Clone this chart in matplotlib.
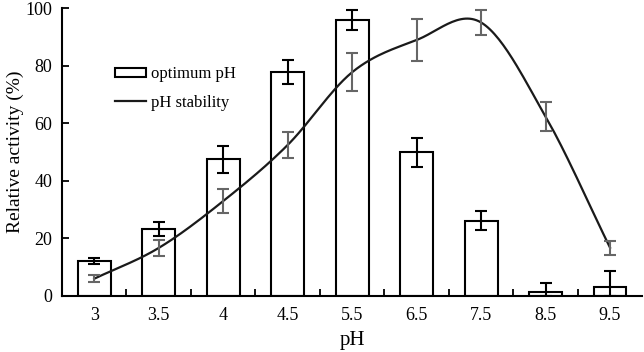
import numpy as np
import matplotlib
matplotlib.use("Agg")
import matplotlib.pyplot as plt
from matplotlib.patches import Patch
from matplotlib.lines import Line2D

plt.rcParams['font.family'] = ['Liberation Serif', 'DejaVu Serif']

ph_labels = ['3', '3.5', '4', '4.5', '5.5', '6.5', '7.5', '8.5', '9.5']
optimum = [12.0, 23.3, 47.4, 77.7, 95.9, 49.8, 26.0, 1.3, 3.0]
optimum_err = [1.0, 2.4, 4.8, 4.2, 3.6, 5.0, 3.3, 3.2, 5.6]
stability = [5.9, 16.6, 32.9, 52.4, 77.7, 88.9, 95.0, 62.3, 16.7]
stability_err = [1.3, 2.8, 4.1, 4.5, 6.6, 7.3, 4.5, 5.1, 2.4]


# Catmull-Rom style smoothing, like a spreadsheet "smoothed line"
def smooth(x, y, n=30):
    x = np.asarray(x, float)
    y = np.asarray(y, float)
    px = np.concatenate([[2 * x[0] - x[1]], x, [2 * x[-1] - x[-2]]])
    py = np.concatenate([[2 * y[0] - y[1]], y, [2 * y[-1] - y[-2]]])
    xs, ys = [], []
    t = np.linspace(0, 1, n)
    for i in range(1, len(px) - 2):
        for p, out in ((px, xs), (py, ys)):
            p0, p1, p2, p3 = p[i - 1], p[i], p[i + 1], p[i + 2]
            out.append(0.5 * ((2 * p1) + (-p0 + p2) * t
                              + (2 * p0 - 5 * p1 + 4 * p2 - p3) * t ** 2
                              + (-p0 + 3 * p1 - 3 * p2 + p3) * t ** 3))
    return np.concatenate(xs), np.concatenate(ys)


pos = np.arange(len(ph_labels))

fig = plt.figure(figsize=(6.44, 3.52), dpi=100)
ax = fig.add_axes([0.0963, 0.160, 0.901, 0.817])

lo = np.minimum(optimum_err, optimum)
ax.bar(pos, optimum, width=0.51, color='white', edgecolor='black', linewidth=1.5, zorder=2)
ax.errorbar(pos, optimum, yerr=[lo, optimum_err], fmt='none', ecolor='black',
            elinewidth=1.5, capsize=4, capthick=1.5, zorder=3)

sx, sy = smooth(pos, stability)
ax.plot(sx, sy, color='#1a1a1a', linewidth=1.6, zorder=4)
ax.errorbar(pos, stability, yerr=stability_err, fmt='none', ecolor='#666666',
            elinewidth=1.5, capsize=4, capthick=1.5, zorder=4)

ax.set_xlim(-0.5, len(ph_labels) - 0.5)
ax.set_ylim(0, 100)
ax.set_xticks(pos)
ax.set_xticklabels(ph_labels)
ax.set_xticks(pos[:-1] + 0.5, minor=True)
ax.set_yticks([0, 20, 40, 60, 80, 100])
ax.tick_params(axis='x', which='major', length=0, labelsize=13, pad=8)
ax.tick_params(axis='x', which='minor', direction='in', length=5, width=1.3)
ax.tick_params(axis='y', direction='in', length=5, width=1.3, labelsize=13, pad=7)
for s in ['top', 'right']:
    ax.spines[s].set_visible(False)
for s in ['left', 'bottom']:
    ax.spines[s].set_linewidth(1.5)

ax.set_xlabel('pH', fontsize=15, labelpad=5)
ax.set_ylabel('Relative activity (%)', fontsize=14)
ax.yaxis.set_label_coords(-0.066, 0.5)

handles = [Patch(facecolor='white', edgecolor='black', linewidth=1.5),
           Line2D([0], [0], color='#1a1a1a', linewidth=1.6)]
ax.legend(handles, ['optimum pH', 'pH stability'], frameon=False, fontsize=12,
          loc='upper left', bbox_to_anchor=(0.065, 0.85), handlelength=1.9,
          handleheight=0.5, handletextpad=0.25, labelspacing=0.75)

fig.savefig('out.png', dpi=100)
